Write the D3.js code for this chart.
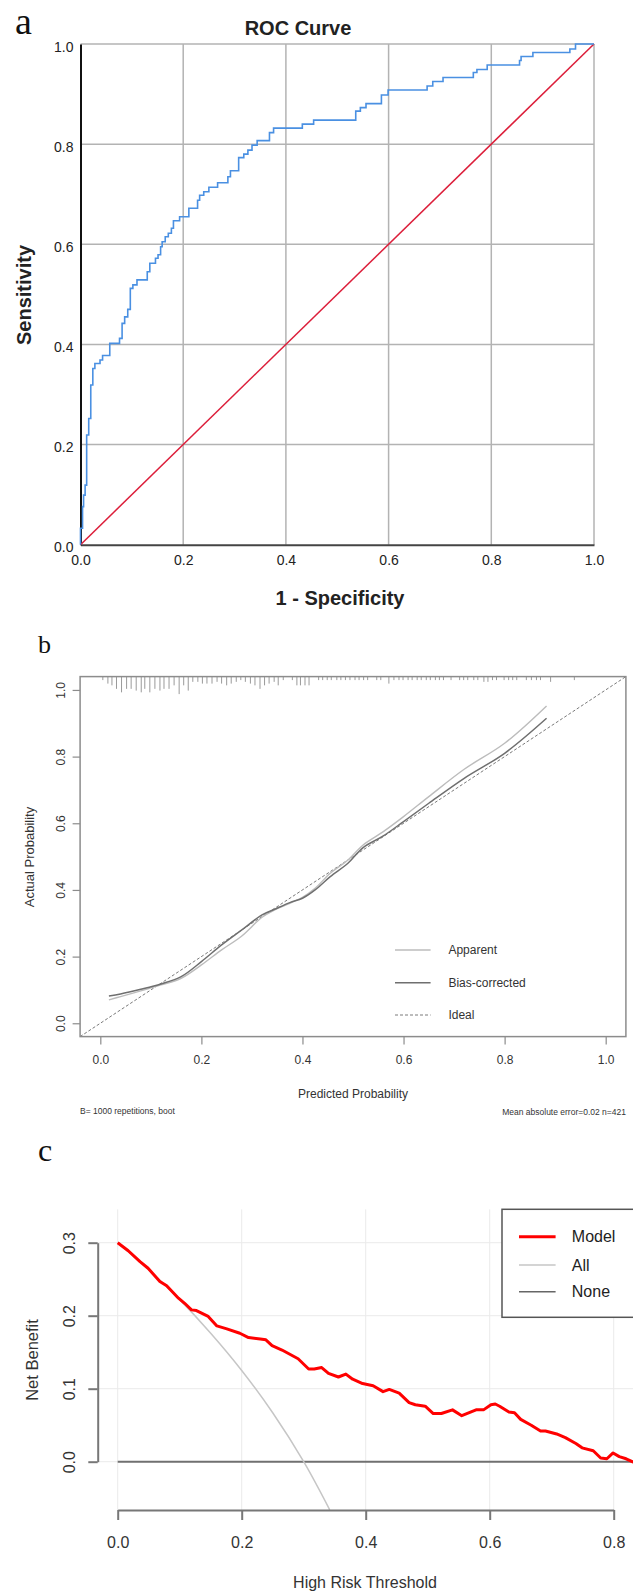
<!DOCTYPE html>
<html><head><meta charset="utf-8">
<script src="https://cdn.jsdelivr.net/npm/d3@7"></script>
<style>body{margin:0;background:#fff}svg{display:block;font-family:"Liberation Sans",Arial,sans-serif}</style>
</head><body><svg id="c" width="633" height="1596"></svg>
<script>
// ---------- Panel a: ROC ----------
const rocFpr = [0,0,0.004,0.006,0.009,0.012,0.016,0.02,0.024,0.028,0.038,0.043,0.057,0.076,0.081,0.086,0.092,0.097,0.102,0.110,0.130,0.135,0.146,0.151,0.156,0.159,0.165,0.171,0.177,0.181,0.193,0.211,0.228,0.232,0.240,0.250,0.267,0.287,0.292,0.308,0.318,0.326,0.334,0.344,0.368,0.376,0.432,0.454,0.536,0.545,0.556,0.586,0.599,0.675,0.686,0.706,0.765,0.772,0.792,0.855,0.858,0.881,0.953,0.964,1];
const rocTpr = [0,0.033,0.076,0.099,0.119,0.219,0.252,0.319,0.352,0.362,0.369,0.378,0.402,0.412,0.442,0.455,0.470,0.512,0.519,0.529,0.545,0.562,0.572,0.579,0.595,0.605,0.615,0.622,0.632,0.647,0.655,0.672,0.688,0.698,0.705,0.714,0.723,0.735,0.747,0.773,0.780,0.788,0.798,0.807,0.823,0.832,0.840,0.848,0.866,0.873,0.881,0.898,0.908,0.916,0.925,0.933,0.943,0.949,0.958,0.967,0.975,0.983,0.990,1.0,1.0];
const rocTicks = [0,0.2,0.4,0.6,0.8,1.0];

// ---------- Panel b: calibration ----------
const calPred = [0.017,0.04,0.08,0.12,0.16,0.2,0.24,0.28,0.32,0.345,0.375,0.4,0.425,0.455,0.49,0.52,0.56,0.6,0.65,0.72,0.8,0.883];
const calApparent = [0.070,0.080,0.097,0.115,0.135,0.175,0.220,0.262,0.318,0.340,0.360,0.378,0.405,0.450,0.490,0.535,0.575,0.620,0.680,0.762,0.840,0.952];
const calBias = [0.082,0.088,0.102,0.118,0.140,0.185,0.235,0.280,0.325,0.342,0.362,0.375,0.400,0.440,0.480,0.527,0.562,0.605,0.660,0.735,0.810,0.915];
const rugPred = [0.005,0.015,0.023,0.032,0.042,0.052,0.061,0.071,0.081,0.088,0.098,0.108,0.118,0.126,0.136,0.146,0.156,0.165,0.174,0.183,0.193,0.202,0.211,0.221,0.231,0.240,0.250,0.259,0.269,0.278,0.287,0.297,0.306,0.316,0.325,0.334,0.344,0.352,0.362,0.380,0.389,0.396,0.405,0.413,0.432,0.440,0.449,0.457,0.468,0.476,0.485,0.494,0.504,0.512,0.521,0.529,0.547,0.555,0.571,0.581,0.591,0.599,0.609,0.617,0.627,0.635,0.645,0.653,0.663,0.671,0.679,0.694,0.711,0.719,0.727,0.739,0.747,0.759,0.767,0.776,0.784,0.799,0.808,0.816,0.824,0.843,0.853,0.863,0.871,0.891,0.938];
const rugCount = [2,4,5,7,9,7,7,8,9,7,9,7,8,7,7,5,10,5,8,3,3,4,4,4,3,4,5,4,3,2,3,4,5,7,5,4,3,5,2,2,5,5,5,5,2,2,2,2,2,2,2,2,2,2,2,2,2,2,4,2,2,2,2,2,2,2,2,2,2,2,2,2,2,2,2,2,2,3,3,2,2,2,2,2,2,2,2,2,2,3,2];
const calTicks = [0,0.2,0.4,0.6,0.8,1.0];
const calLegend = ["Apparent","Bias-corrected","Ideal"];

// ---------- Panel c: decision curve ----------
const dcaThreshold = [0,0.017,0.036,0.049,0.068,0.079,0.098,0.108,0.119,0.127,0.146,0.160,0.176,0.197,0.211,0.230,0.239,0.249,0.265,0.291,0.308,0.317,0.329,0.340,0.356,0.368,0.379,0.395,0.412,0.428,0.438,0.454,0.470,0.480,0.496,0.509,0.522,0.540,0.555,0.578,0.590,0.602,0.609,0.616,0.631,0.640,0.650,0.667,0.682,0.690,0.708,0.722,0.739,0.749,0.767,0.779,0.789,0.799,0.809,0.820,0.830,0.840];
const dcaModel = [0.300,0.289,0.274,0.265,0.247,0.241,0.224,0.217,0.208,0.207,0.199,0.186,0.182,0.176,0.170,0.168,0.167,0.159,0.153,0.141,0.127,0.127,0.129,0.121,0.116,0.120,0.113,0.107,0.104,0.096,0.099,0.094,0.081,0.078,0.076,0.066,0.066,0.071,0.063,0.071,0.071,0.078,0.079,0.076,0.068,0.067,0.058,0.050,0.042,0.042,0.038,0.033,0.025,0.019,0.015,0.005,0.004,0.012,0.007,0.004,0.000,-0.002];
const allThreshold = [0,0.05,0.1,0.15,0.2,0.25,0.3,0.342];
const allNB = [0.300,0.263,0.222,0.176,0.125,0.067,0.000,-0.066];
const dcaXTicks = [0,0.2,0.4,0.6,0.8];
const dcaYTicks = [0,0.1,0.2,0.3];
const dcaLegend = ["Model","All","None"];

const svg = d3.select('#c');
const SANS = '"Liberation Sans", Arial, sans-serif';
const SERIF = '"Liberation Serif", "DejaVu Serif", serif';
svg.append('rect').attr('width',633).attr('height',1596).attr('fill','#fff');

// panel letters
svg.append('text').attr('x',15).attr('y',34).style('font-family',SERIF).style('font-size','38px').attr('fill','#111').text('a');
svg.append('text').attr('x',38).attr('y',653).style('font-family',SERIF).style('font-size','26px').attr('fill','#111').text('b');
svg.append('text').attr('x',38).attr('y',1161).style('font-family',SERIF).style('font-size','32px').attr('fill','#111').text('c');

// ===== Panel a =====
const xA = d3.scaleLinear().domain([0,1]).range([80.5,594]);
const yA = d3.scaleLinear().domain([0,1]).range([544.7,44]);
const gA = svg.append('g');
gA.selectAll('line.vg').data(rocTicks.slice(1)).join('line').attr('class','vg')
  .attr('x1',d=>xA(d)).attr('x2',d=>xA(d)).attr('y1',yA(0)).attr('y2',yA(1))
  .attr('stroke','#b3b3b3').attr('stroke-width',1.5);
gA.selectAll('line.hg').data(rocTicks.slice(1)).join('line').attr('class','hg')
  .attr('y1',d=>yA(d)).attr('y2',d=>yA(d)).attr('x1',xA(0)).attr('x2',xA(1))
  .attr('stroke','#b3b3b3').attr('stroke-width',1.5);
gA.append('g').attr('transform',`translate(0,${yA(0)})`)
  .call(d3.axisBottom(xA).tickValues(rocTicks).tickFormat(d3.format('.1f')).tickSize(0).tickPadding(10))
  .call(g=>{g.attr('font-family',SANS).attr('font-size',14);
    g.select('.domain').attr('stroke','#444').attr('stroke-width',2);
    g.selectAll('text').attr('fill','#222');});
gA.append('g').attr('transform',`translate(${xA(0)},0)`)
  .call(d3.axisLeft(yA).tickValues(rocTicks).tickFormat(d3.format('.1f')).tickSize(0).tickPadding(7))
  .call(g=>{g.attr('font-family',SANS).attr('font-size',14);
    g.select('.domain').attr('stroke','#111').attr('stroke-width',2);
    g.selectAll('text').attr('fill','#222').attr('dy','0.5em');});
gA.append('line').attr('x1',xA(0)).attr('y1',yA(0)).attr('x2',xA(1)).attr('y2',yA(1))
  .attr('stroke','#dc1e3a').attr('stroke-width',1.5);
const rocPts = rocFpr.map((f,i)=>[f,rocTpr[i]]);
gA.append('path').datum(rocPts)
  .attr('d',d3.line().x(d=>xA(d[0])).y(d=>yA(d[1])).curve(d3.curveStepAfter))
  .attr('fill','none').attr('stroke','#4a90e2').attr('stroke-width',1.6);
gA.append('text').attr('x',298).attr('y',35).attr('text-anchor','middle')
  .style('font-family',SANS).style('font-size','20px').style('font-weight','bold').attr('fill','#222').text('ROC Curve');
gA.append('text').attr('transform','translate(31,295) rotate(-90)').attr('text-anchor','middle')
  .style('font-family',SANS).style('font-size','20px').style('font-weight','bold').attr('fill','#222').text('Sensitivity');
gA.append('text').attr('x',340).attr('y',605).attr('text-anchor','middle')
  .style('font-family',SANS).style('font-size','20px').style('font-weight','bold').attr('fill','#222').text('1 - Specificity');

// ===== Panel b =====
const xB = d3.scaleLinear().domain([-0.04,1.04]).range([80.1,625.9]);
const yB = d3.scaleLinear().domain([-0.04,1.04]).range([1036.6,676.6]);
const gB = svg.append('g');
const bCol = '#8c8c8c';
// rug
const rugLen = d3.scaleLinear().domain([0,10]).range([0,17.5]);
gB.selectAll('line.rug').data(rugPred.map((p,i)=>[p,rugCount[i]])).join('line').attr('class','rug')
  .attr('x1',d=>xB(d[0])).attr('x2',d=>xB(d[0]))
  .attr('y1',yB(1.04)).attr('y2',d=>yB(1.04)+rugLen(d[1]))
  .attr('stroke','#9a9a9a').attr('stroke-width',1);
// ideal
gB.append('line').attr('x1',xB(-0.04)).attr('y1',yB(-0.04)).attr('x2',xB(1.04)).attr('y2',yB(1.04))
  .attr('stroke','#7a7a7a').attr('stroke-width',1).attr('stroke-dasharray','3,2');
const lineB = d3.line().x(d=>xB(d[0])).y(d=>yB(d[1])).curve(d3.curveCatmullRom);
gB.append('path').datum(calPred.map((p,i)=>[p,calApparent[i]])).attr('d',lineB)
  .attr('fill','none').attr('stroke','#bcbcbc').attr('stroke-width',1.4);
gB.append('path').datum(calPred.map((p,i)=>[p,calBias[i]])).attr('d',lineB)
  .attr('fill','none').attr('stroke','#6f6f6f').attr('stroke-width',1.5);
// frame
gB.append('rect').attr('x',xB(-0.04)).attr('y',yB(1.04)).attr('width',xB(1.04)-xB(-0.04)).attr('height',yB(-0.04)-yB(1.04))
  .attr('fill','none').attr('stroke',bCol).attr('stroke-width',1.5);
gB.append('g').attr('transform',`translate(0,${yB(-0.04)})`)
  .call(d3.axisBottom(xB).tickValues(calTicks).tickFormat(d3.format('.1f')).tickSize(8).tickSizeOuter(0).tickPadding(11))
  .call(g=>{g.attr('font-family',SANS).attr('font-size',12);
    g.select('.domain').remove();
    g.selectAll('.tick line').attr('stroke',bCol).attr('stroke-width',1.2);
    g.selectAll('text').attr('fill','#333');});
gB.append('g').attr('transform',`translate(${xB(-0.04)},0)`)
  .call(d3.axisLeft(yB).tickValues(calTicks).tickFormat(d3.format('.1f')).tickSize(7.5).tickSizeOuter(0))
  .call(g=>{g.attr('font-family',SANS).attr('font-size',12);
    g.select('.domain').remove();
    g.selectAll('.tick line').attr('stroke',bCol).attr('stroke-width',1.2);
    g.selectAll('text').attr('fill','#333').attr('x',0).attr('y',-15.6).attr('dy',0)
      .attr('text-anchor','middle').attr('transform','rotate(-90)');});
gB.append('text').attr('transform','translate(34,857) rotate(-90)').attr('text-anchor','middle')
  .style('font-family',SANS).style('font-size','13px').attr('fill','#333').text('Actual Probability');
gB.append('text').attr('x',353).attr('y',1098).attr('text-anchor','middle')
  .style('font-family',SANS).style('font-size','12px').attr('fill','#333').text('Predicted Probability');
gB.append('text').attr('x',80).attr('y',1114)
  .style('font-family',SANS).style('font-size','8.5px').attr('fill','#333').text('B= 1000 repetitions, boot');
gB.append('text').attr('x',626).attr('y',1115).attr('text-anchor','end')
  .style('font-family',SANS).style('font-size','8.5px').attr('fill','#333').text('Mean absolute error=0.02 n=421');
// legend b
const legBY = [950,982.7,1015];
const legBStyle = [{c:'#bcbcbc',w:1.4,d:null},{c:'#6f6f6f',w:1.6,d:null},{c:'#7a7a7a',w:1,d:'3,2'}];
calLegend.forEach((t,i)=>{
  gB.append('line').attr('x1',395).attr('x2',430.6).attr('y1',legBY[i]).attr('y2',legBY[i])
    .attr('stroke',legBStyle[i].c).attr('stroke-width',legBStyle[i].w).attr('stroke-dasharray',legBStyle[i].d);
  gB.append('text').attr('x',448.4).attr('y',legBY[i]).attr('dy','0.35em')
    .style('font-family',SANS).style('font-size','12px').attr('fill','#333').text(t);
});

// ===== Panel c =====
const xC = d3.scaleLinear().domain([0,0.8]).range([117.7,613.7]);
const yC = d3.scaleLinear().domain([0,0.3]).range([1461.7,1242.7]);
const gC = svg.append('g');
const cTop = 1209.3, cBot = 1510, cLeft = 97.7;
gC.selectAll('line.vg').data(dcaXTicks).join('line').attr('class','vg')
  .attr('x1',d=>xC(d)).attr('x2',d=>xC(d)).attr('y1',cTop).attr('y2',cBot)
  .attr('stroke','#ebebeb').attr('stroke-width',1);
gC.selectAll('line.hg').data(dcaYTicks).join('line').attr('class','hg')
  .attr('y1',d=>yC(d)).attr('y2',d=>yC(d)).attr('x1',cLeft).attr('x2',640)
  .attr('stroke','#ebebeb').attr('stroke-width',1);
// None
gC.append('line').attr('x1',xC(0)).attr('x2',xC(0.85)).attr('y1',yC(0)).attr('y2',yC(0))
  .attr('stroke','#707070').attr('stroke-width',2);
// All
gC.append('path').datum(allThreshold.map((t,i)=>[t,allNB[i]]))
  .attr('d',d3.line().x(d=>xC(d[0])).y(d=>yC(d[1])).curve(d3.curveCatmullRom))
  .attr('fill','none').attr('stroke','#c6c6c6').attr('stroke-width',1.5);
// Model
gC.append('path').datum(dcaThreshold.map((t,i)=>[t,dcaModel[i]]))
  .attr('d',d3.line().x(d=>xC(d[0])).y(d=>yC(d[1])))
  .attr('fill','none').attr('stroke','#ff0000').attr('stroke-width',3).attr('stroke-linejoin','round');
// axes
gC.append('g').attr('transform',`translate(0,${cBot})`)
  .call(d3.axisBottom(xC).tickValues(dcaXTicks).tickFormat(d3.format('.1f')).tickSize(10).tickSizeOuter(0).tickPadding(17))
  .call(g=>{g.attr('font-family',SANS).attr('font-size',16);
    g.select('.domain').attr('stroke','#777').attr('stroke-width',2);
    g.selectAll('.tick line').attr('stroke','#777').attr('stroke-width',2);
    g.selectAll('text').attr('fill','#333');});
gC.append('g').attr('transform',`translate(${cLeft},0)`)
  .call(d3.axisLeft(yC).tickValues(dcaYTicks).tickFormat(d3.format('.1f')).tickSize(9.4).tickSizeOuter(0))
  .call(g=>{g.attr('font-family',SANS).attr('font-size',16);
    g.select('.domain').attr('stroke','#777').attr('stroke-width',2);
    g.selectAll('.tick line').attr('stroke','#777').attr('stroke-width',2);
    g.selectAll('text').attr('fill','#333').attr('x',0).attr('y',-22.7).attr('dy',0)
      .attr('text-anchor','middle').attr('transform','rotate(-90)');});
gC.append('text').attr('x',365).attr('y',1588).attr('text-anchor','middle')
  .style('font-family',SANS).style('font-size','16px').attr('fill','#333').text('High Risk Threshold');
gC.append('text').attr('transform','translate(38,1360) rotate(-90)').attr('text-anchor','middle')
  .style('font-family',SANS).style('font-size','16.5px').attr('fill','#333').text('Net Benefit');
// legend c
gC.append('rect').attr('x',502).attr('y',cTop).attr('width',140).attr('height',108)
  .attr('fill','#fff').attr('stroke','#555').attr('stroke-width',1.5);
const legCY = [1236.7,1265,1291.7];
const legCStyle = [{c:'#ff0000',w:3},{c:'#c6c6c6',w:1.5},{c:'#666',w:1.5}];
dcaLegend.forEach((t,i)=>{
  gC.append('line').attr('x1',519).attr('x2',555.6).attr('y1',legCY[i]).attr('y2',legCY[i])
    .attr('stroke',legCStyle[i].c).attr('stroke-width',legCStyle[i].w);
  gC.append('text').attr('x',571.8).attr('y',legCY[i]).attr('dy','0.36em')
    .style('font-family',SANS).style('font-size','16px').attr('fill','#222').text(t);
});
</script></body></html>
